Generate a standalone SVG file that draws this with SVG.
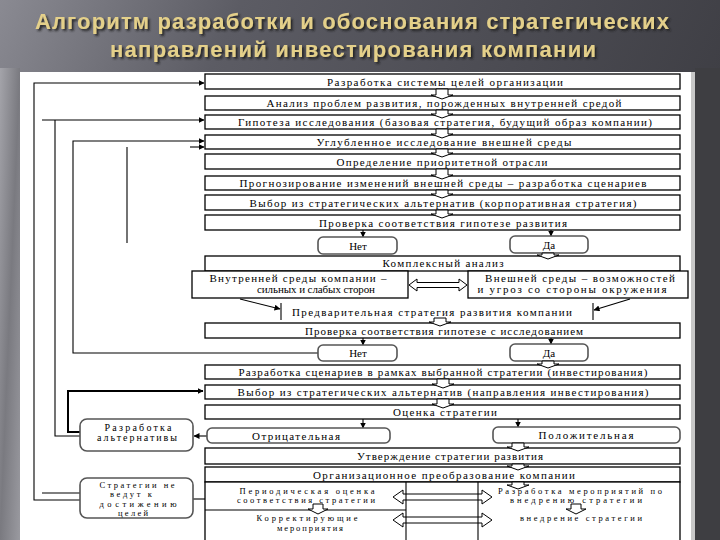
<svg xmlns="http://www.w3.org/2000/svg" width="720" height="540" viewBox="0 0 720 540">
<defs>
<linearGradient id="bg" x1="0" y1="0" x2="1" y2="0.35">
<stop offset="0" stop-color="#8a8a92"/>
<stop offset="0.3" stop-color="#5c5c64"/>
<stop offset="1" stop-color="#3c3c42"/>
</linearGradient>
<linearGradient id="ls" x1="0" y1="0" x2="1" y2="1">
<stop offset="0" stop-color="#a4a4aa"/>
<stop offset="0.5" stop-color="#7a7a80"/>
<stop offset="1" stop-color="#9a9aa0"/>
</linearGradient>
<filter id="sh" x="-5%" y="-30%" width="110%" height="160%"><feDropShadow dx="2" dy="2" stdDeviation="0.8" flood-color="#1a1a1a" flood-opacity="0.9"/></filter>
<marker id="ah" markerWidth="6" markerHeight="6" refX="5.5" refY="3" orient="auto" markerUnits="userSpaceOnUse"><path d="M0,0 L6,3 L0,6 Z" fill="#000"/></marker>
</defs>
<style>
.b{fill:#fff;stroke:#000;stroke-width:1.3}
.r{fill:#fff;stroke:#555;stroke-width:1.6}
.t{font-family:"Liberation Serif","Times New Roman",serif;font-size:11px;fill:#000}
.s{font-family:"Liberation Serif","Times New Roman",serif;font-size:10px;fill:#000}
.x{font-family:"Liberation Serif","Times New Roman",serif;font-size:8.5px;fill:#000}
.c{fill:none;stroke:#000;stroke-width:1.1}
.k{fill:none;stroke:#000;stroke-width:2}
.ba{fill:#fff;stroke:#000;stroke-width:1}
.ti{font-family:"Liberation Sans",Arial,sans-serif;font-weight:bold;font-size:22px;fill:#e4d08a}
</style>
<rect x="0" y="0" width="720" height="540" fill="url(#bg)"/>
<rect x="0" y="68" width="20" height="472" fill="url(#ls)"/>
<rect x="695" y="68" width="25" height="472" fill="#3e3e42"/>
<rect x="20" y="72" width="675" height="468" fill="#fff"/>
<rect x="691" y="72" width="4" height="468" fill="#c8c8c8"/>

<g id="title" filter="url(#sh)">
<text class="ti" x="352" y="29" text-anchor="middle" textLength="634">Алгоритм разработки и обоснования стратегических</text>
<text class="ti" x="353" y="57" text-anchor="middle" textLength="486">направлений инвестирования компании</text>
</g>

<g id="connectors">
<path class="c" d="M80,500 H34 V83 H204" marker-end="url(#ah)"/>
<path class="c" d="M80,493 H42"/>
<path class="c" d="M42,120 H204" marker-end="url(#ah)"/>
<path class="c" d="M55,120 V436 H80"/>
<path class="k" d="M80,432 H68 V391 H203" marker-end="url(#ah)"/>
<path class="c" d="M318,353 H73 V141 H204" marker-end="url(#ah)"/>
<path class="c" d="M127,147 V243"/>
<path class="c" d="M190,147 H204" marker-end="url(#ah)"/>
<path class="c" d="M207,436 H194" marker-end="url(#ah)"/>
<path class="c" d="M193,499 H205"/>
<path class="c" d="M363,230 V237" marker-end="url(#ah)"/>
<path class="c" d="M551,230 V236" marker-end="url(#ah)"/>
<path class="c" d="M363,338 V345" marker-end="url(#ah)"/>
<path class="c" d="M551,338 V344" marker-end="url(#ah)"/>
<path class="c" d="M363,419 V428" marker-end="url(#ah)"/>
<path class="c" d="M518,419 V427" marker-end="url(#ah)"/>
<path class="c" d="M240,299 L280,309" marker-end="url(#ah)"/>
<path class="c" d="M630,299 L594,310" marker-end="url(#ah)"/>
</g>

<g id="n1"><rect class="b" x="205" y="74" width="475" height="15"/><text class="t" x="445" y="85.5" text-anchor="middle" textLength="236">Разработка системы целей организации</text></g>
<g id="n2"><rect class="b" x="205" y="96" width="475" height="14"/><text class="t" x="444" y="107" text-anchor="middle" textLength="355">Анализ проблем развития, порожденных внутренней средой</text></g>
<g id="n3"><rect class="b" x="205" y="115" width="475" height="14"/><text class="t" x="445" y="126" text-anchor="middle" textLength="414">Гипотеза исследования (базовая стратегия, будущий образ компании)</text></g>
<g id="n4"><rect class="b" x="205" y="135" width="475" height="14"/><text class="t" x="444" y="146" text-anchor="middle" textLength="255">Углубленное исследование внешней среды</text></g>
<g id="n5"><rect class="b" x="205" y="154" width="475" height="15"/><text class="t" x="442" y="165.5" text-anchor="middle" textLength="211">Определение приоритетной отрасли</text></g>
<g id="n6"><rect class="b" x="205" y="176" width="475" height="14"/><text class="t" x="443" y="187" text-anchor="middle" textLength="407">Прогнозирование изменений внешней среды – разработка сценариев</text></g>
<g id="n7"><rect class="b" x="205" y="195" width="475" height="15"/><text class="t" x="443" y="206.5" text-anchor="middle" textLength="387">Выбор из стратегических альтернатив (корпоративная стратегия)</text></g>
<g id="n8"><rect class="b" x="205" y="215" width="475" height="15"/><text class="t" x="443" y="226.5" text-anchor="middle" textLength="248">Проверка соответствия гипотезе развития</text></g>
<g id="no1"><rect class="r" x="318" y="237" width="79" height="17" rx="5"/><text class="t" x="358" y="249.5" text-anchor="middle">Нет</text></g>
<g id="yes1"><rect class="r" x="510" y="236" width="78" height="17" rx="5"/><text class="t" x="549" y="248.5" text-anchor="middle">Да</text></g>
<g id="n10"><rect class="b" x="205" y="256" width="475" height="15"/><text class="t" x="443" y="267" text-anchor="middle" textLength="121">Комплексный анализ</text></g>
<g id="n11a"><rect class="b" x="192" y="271" width="216" height="27"/><text class="t" x="298" y="282" text-anchor="middle" textLength="177">Внутренней среды компании –</text><text class="t" x="316" y="293" text-anchor="middle" textLength="118">сильных и слабых сторон</text></g>
<g id="n11b"><rect class="b" x="468" y="271" width="220" height="27"/><text class="t" x="580" y="282" text-anchor="middle" textLength="190">Внешней среды – возможностей</text><text class="t" x="572" y="293" text-anchor="middle" textLength="189">и угроз со стороны окружения</text></g>
<g id="dbl1"><path class="ba" d="M409,285 L417,279 V282.5 H459 V279 L467,285 L459,291 V287.5 H417 V291 Z"/></g>
<g id="n12"><path class="c" d="M281,303 V320 M593,303 V320"/><text class="t" x="432" y="315.5" text-anchor="middle" textLength="280">Предварительная стратегия развития компании</text></g>
<g id="n13"><rect class="b" x="205" y="323" width="475" height="15"/><text class="t" x="444" y="334.5" text-anchor="middle" textLength="278">Проверка соответствия гипотезе с исследованием</text></g>
<g id="no2"><rect class="r" x="318" y="345" width="79" height="16" rx="5"/><text class="t" x="358" y="357" text-anchor="middle">Нет</text></g>
<g id="yes2"><rect class="r" x="510" y="344" width="78" height="17" rx="5"/><text class="t" x="549" y="356.5" text-anchor="middle">Да</text></g>
<g id="n15"><rect class="b" x="205" y="365" width="475" height="14"/><text class="t" x="443" y="376" text-anchor="middle" textLength="409">Разработка сценариев в рамках выбранной стратегии (инвестирования)</text></g>
<g id="n16"><rect class="b" x="205" y="385" width="475" height="14"/><text class="t" x="443" y="396" text-anchor="middle" textLength="411">Выбор из стратегических альтернатив (направления инвестирования)</text></g>
<g id="n17"><rect class="b" x="205" y="405" width="475" height="14"/><text class="t" x="445" y="416" text-anchor="middle" textLength="104">Оценка стратегии</text></g>
<g id="neg"><rect class="r" x="207" y="428" width="183" height="15" rx="5"/><text class="t" x="296" y="439.5" text-anchor="middle" textLength="88">Отрицательная</text></g>
<g id="pos"><rect class="r" x="493" y="427" width="187" height="16" rx="5"/><text class="t" x="586" y="439" text-anchor="middle" textLength="95">Положительная</text></g>
<g id="n19"><rect class="b" x="205" y="448" width="475" height="16"/><text class="t" x="450" y="460" text-anchor="middle" textLength="186">Утверждение стратегии развития</text></g>
<g id="n20"><rect class="b" x="205" y="467" width="475" height="15"/><text class="t" x="444" y="478.5" text-anchor="middle" textLength="262">Организационное преобразование компании</text></g>
<g id="n21"><rect class="b" x="205" y="482" width="475" height="64"/>
<path class="ba" d="M393,497 L403,490 V494 H482 V490 L492,497 L482,504 V500 H403 V504 Z"/>
<path class="ba" d="M393,520 L403,513 V517 H482 V513 L492,520 L482,527 V523 H403 V527 Z"/>
<path class="c" d="M406,482 V540 M478,482 V540 M205,510 H406"/>
<text class="x" x="307" y="493.5" text-anchor="middle" textLength="135">Периодическая оценка</text>
<text class="x" x="306" y="503" text-anchor="middle" textLength="138">соответствия стратегии</text>
<text class="x" x="307" y="521" text-anchor="middle" textLength="101">Корректирующие</text>
<text class="x" x="310" y="530.5" text-anchor="middle" textLength="66">мероприятия</text>
<text class="x" x="580" y="493.5" text-anchor="middle" textLength="164">Разработка мероприятий по</text>
<text class="x" x="576" y="503" text-anchor="middle" textLength="132">внедрению стратегии</text>
<text class="x" x="581" y="521" text-anchor="middle" textLength="122">внедрение стратегии</text>
</g>
<g id="alt"><rect class="r" x="80" y="419" width="113" height="32" rx="7"/><text class="s" x="138" y="431" text-anchor="middle" textLength="67">Разработка</text><text class="s" x="137" y="441" text-anchor="middle" textLength="80">альтернативы</text></g>
<g id="strat"><rect class="r" x="80" y="478" width="113" height="40" rx="7"/><text class="x" x="137" y="487.5" text-anchor="middle" textLength="75">Стратегии не</text><text class="x" x="131" y="497" text-anchor="middle" textLength="42">ведут к</text><text class="x" x="138" y="506.5" text-anchor="middle" textLength="77">достижению</text><text class="x" x="133" y="515.5" text-anchor="middle" textLength="30">целей</text></g>

<g id="blockarrows">
<path class="ba" d="M436,89 V95 H431 L442,99 L453,95 H448 V89 Z"/>
<path class="ba" d="M436,110 V114 H431 L442,118 L453,114 H448 V110 Z"/>
<path class="ba" d="M436,129 V134 H431 L442,138 L453,134 H448 V129 Z"/>
<path class="ba" d="M436,149 V153 H431 L442,157 L453,153 H448 V149 Z"/>
<path class="ba" d="M436,169 V175 H431 L442,179 L453,175 H448 V169 Z"/>
<path class="ba" d="M436,190 V194 H431 L442,198 L453,194 H448 V190 Z"/>
<path class="ba" d="M436,210 V214 H431 L442,218 L453,214 H448 V210 Z"/>
<path class="ba" d="M542,253 V255 H537 L548,259 L559,255 H554 V253 Z"/>
<path class="ba" d="M434,318 V322 H429 L440,326 L451,322 H446 V318 Z"/>
<path class="ba" d="M542,361 V364 H537 L548,368 L559,364 H554 V361 Z"/>
<path class="ba" d="M437,379 V384 H432 L443,388 L454,384 H449 V379 Z"/>
<path class="ba" d="M437,399 V404 H432 L443,408 L454,404 H449 V399 Z"/>
<path class="ba" d="M512,443 V447 H507 L518,451 L529,447 H524 V443 Z"/>
<path class="ba" d="M512,464 V466 H507 L518,470 L529,466 H524 V464 Z"/>
<path class="ba" d="M512,482 V485 H507 L518,489 L529,485 H524 V482 Z"/>
<path class="ba" d="M313,504 V509 H308 L318,514 L328,509 H323 V504 Z"/>
<path class="ba" d="M571,504 V509 H566 L576,514 L586,509 H581 V504 Z"/>
</g>
</svg>
